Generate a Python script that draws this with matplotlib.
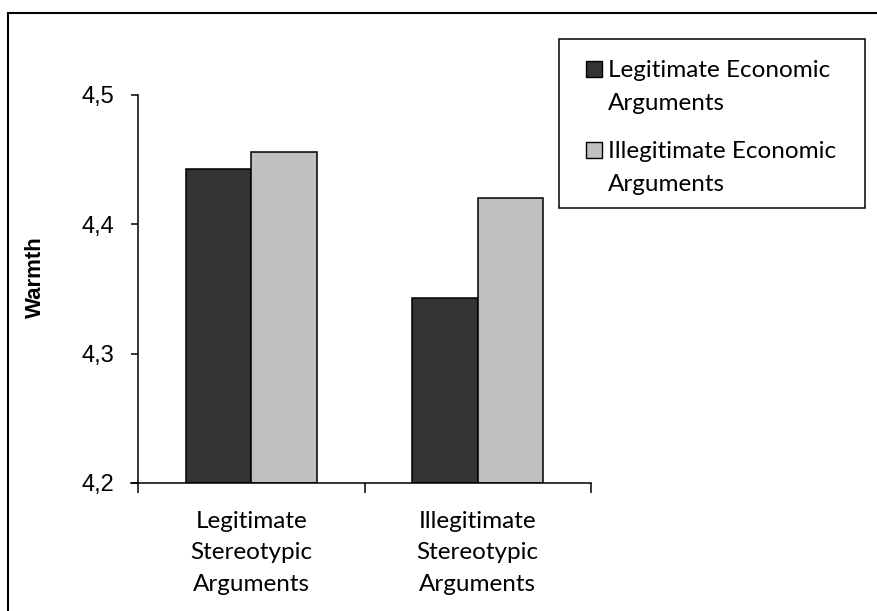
import numpy as np
import matplotlib.pyplot as plt
from matplotlib.patches import Rectangle


plt.rcParams['font.family'] = 'Liberation Sans'

categories = ['Legitimate\nStereotypic\nArguments', 'Illegitimate\nStereotypic\nArguments']
series_names = ['Legitimate Economic\nArguments', 'Illegitimate Economic\nArguments']
legit_econ = [4.443, 4.343]
illegit_econ = [4.456, 4.420]
series = [legit_econ, illegit_econ]
colors = ['#333333', '#c0c0c0']
yticks = [4.2, 4.3, 4.4, 4.5]
yticklabels = ['4,2', '4,3', '4,4', '4,5']

W, H = 877, 611


def fx(px):
    return px / W


def fy(py):
    return 1 - py / H


fig = plt.figure(figsize=(W / 100, H / 100), dpi=100)
ax = fig.add_axes([fx(138), fy(483), fx(591) - fx(138), fy(95) - fy(483)])

x = np.arange(len(categories))
width = 0.29
for i in range(len(series)):
    ax.bar(x + (i - 0.5) * width, np.array(series[i]) - 4.2, width,
           bottom=4.2, color=colors[i], edgecolor='black', linewidth=1.1)

ax.set_xlim(-0.5, 1.5)
ax.set_ylim(4.2, 4.5)
ax.set_yticks(yticks)
ax.set_yticklabels(yticklabels, fontsize=17)
ax.tick_params(axis='y', length=5, width=1.1, pad=12)

ax.set_xticks(x)
ax.set_xticklabels(categories, fontsize=17.5, family='Lato', linespacing=1.62)
ax.set_xticks([-0.5, 0.5, 1.5], minor=True)
ax.tick_params(axis='x', which='major', length=0, pad=20)
ax.tick_params(axis='x', which='minor', length=7, width=1.1)

for s in ['top', 'right']:
    ax.spines[s].set_visible(False)
for s in ['left', 'bottom']:
    ax.spines[s].set_linewidth(1.1)
ax.spines['bottom'].set_bounds(-0.53, 1.5)

ax.set_ylabel('Warmth', fontsize=16, fontweight='bold')
ax.yaxis.set_label_coords(-0.203, 0.53)

# legend box drawn by hand so the swatch sits on the first text line
fig.patches.append(Rectangle((fx(559), fy(208)), fx(865) - fx(559), fy(39) - fy(208),
                             transform=fig.transFigure, fill=False,
                             edgecolor='black', linewidth=1.1))
baselines = [77, 158]
line_step = 33
for i, name in enumerate(series_names):
    b = baselines[i]
    fig.patches.append(Rectangle((fx(586), fy(b)), fx(602) - fx(586), fy(b - 16) - fy(b),
                                 transform=fig.transFigure, facecolor=colors[i],
                                 edgecolor='black', linewidth=1.0))
    for k, line in enumerate(name.split('\n')):
        fig.text(fx(608), fy(b + k * line_step), line, fontsize=17.5, family='Lato',
                 va='baseline', ha='left')

# outer frame around the whole chart
fig.patches.append(Rectangle((fx(8), fy(620)), fx(890) - fx(8), fy(13) - fy(620),
                             transform=fig.transFigure, fill=False,
                             edgecolor='black', linewidth=1.5))

fig.savefig('out.png', dpi=100)
